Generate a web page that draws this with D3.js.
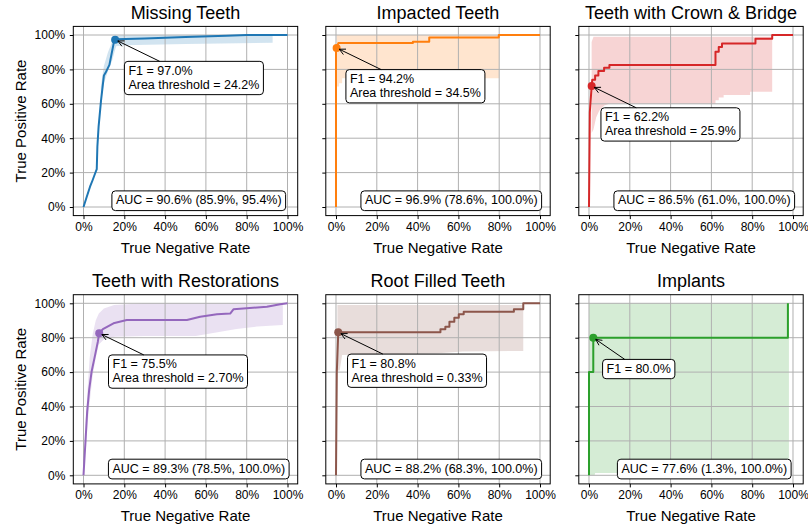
<!DOCTYPE html>
<html>
<head>
<meta charset="utf-8">
<script src="https://cdn.jsdelivr.net/npm/d3@7"></script>
<style>
body { margin: 0; background: #fff; }
text { font-family: "Liberation Sans", Arial, sans-serif; fill: #000; }
</style>
</head>
<body>
<div id="chart"></div>
<script>
// ---- data ----
var titles = ["Missing Teeth", "Impacted Teeth", "Teeth with Crown & Bridge",
              "Teeth with Restorations", "Root Filled Teeth", "Implants"];

var tickValues = [0, 0.2, 0.4, 0.6, 0.8, 1];

// mean ROC curves, [x, y]
var rocMissing = [[0,0],[0.016,0.06],[0.032,0.118],[0.045,0.157],[0.06,0.205],[0.065,0.22],[0.068,0.35],
    [0.074,0.467],[0.086,0.62],[0.1,0.765],[0.108,0.78],[0.127,0.826],[0.135,0.874],[0.151,0.97],
    [0.159,0.975],[0.3,0.98],[0.5,0.988],[0.7,0.995],[0.8,1],[1,1]];
var rocImpacted = [[0,0],[0,0.925],[0.003,0.925],[0.012,0.954],[0.377,0.954],[0.377,0.961],[0.457,0.961],
    [0.457,0.985],[0.798,0.985],[0.798,1],[1,1]];
var rocCrown = [[0,0],[0.004,0.55],[0.013,0.703],[0.016,0.74],[0.03,0.74],[0.03,0.765],[0.046,0.765],
    [0.046,0.79],[0.074,0.79],[0.074,0.81],[0.1,0.81],[0.1,0.826],[0.62,0.826],[0.62,0.903],[0.636,0.903],
    [0.636,0.93],[0.652,0.93],[0.652,0.95],[0.816,0.95],[0.816,0.978],[0.898,0.978],[0.898,1],[1,1]];
var rocRestorations = [[0,0],[0.0098,0.2],[0.018,0.37],[0.028,0.5],[0.04,0.605],[0.057,0.7],[0.07,0.775],
    [0.077,0.826],[0.095,0.85],[0.147,0.884],[0.212,0.903],[0.507,0.903],[0.572,0.922],[0.654,0.936],
    [0.719,0.94],[0.735,0.965],[0.8,0.971],[0.899,0.98],[0.964,0.994],[1,1]];
var rocRootFilled = [[0,0],[0.004,0.6],[0.011,0.831],[0.512,0.831],[0.512,0.849],[0.536,0.849],[0.536,0.864],
    [0.556,0.864],[0.556,0.893],[0.58,0.893],[0.58,0.916],[0.602,0.916],[0.602,0.936],[0.626,0.936],
    [0.626,0.951],[0.872,0.951],[0.872,0.965],[0.918,0.965],[0.918,1],[1,1]];
var rocImplants = [[0,0],[0,0.6],[0.021,0.6],[0.021,0.8],[0.975,0.8],[0.975,1]];

// confidence bands, [x, lower, upper]
var bandMissing = [[0.085,0.6,0.7],[0.1,0.72,0.82],[0.12,0.79,0.9],[0.14,0.85,0.96],[0.16,0.935,0.995],
    [0.2,0.94,1],[0.5,0.947,1],[0.927,0.955,1]];
var bandImpacted = [[0.003,0.7,1],[0.015,0.7,1],[0.015,0.72,1],[0.03,0.72,1],[0.03,0.749,1],[0.8,0.749,1]];
var bandCrown = [[0.013,0.43,0.96],[0.022,0.45,0.99],[0.035,0.52,0.99],[0.05,0.56,0.99],[0.075,0.59,0.99],
    [0.1,0.6,0.99],[0.62,0.6,0.99],[0.62,0.62,0.99],[0.636,0.62,0.99],[0.636,0.636,0.99],[0.66,0.636,0.99],
    [0.66,0.651,0.99],[0.79,0.651,0.99],[0.79,0.67,0.99],[0.898,0.67,0.99]];
var bandRestorations = [[0.01,0.12,0.3],[0.02,0.3,0.5],[0.03,0.42,0.68],[0.045,0.58,0.82],[0.06,0.68,0.9],
    [0.075,0.76,0.94],[0.1,0.79,0.97],[0.15,0.805,0.99],[0.3,0.81,1],[0.55,0.81,1],[0.65,0.83,1],
    [0.75,0.85,1],[0.85,0.865,1],[0.977,0.874,0.99]];
var bandRootFilled = [[0.007,0.61,0.99],[0.018,0.61,0.99],[0.03,0.7,0.99],[0.5,0.71,0.99],[0.62,0.72,0.99],
    [0.918,0.723,0.99]];
var bandImplants = [[0,0,1],[0.028,0,1],[0.03,0.013,1],[0.98,0.013,1]];

// best-F1 operating points
var f1Points = [[0.155,0.973],[0.003,0.925],[0.013,0.703],[0.077,0.826],[0.011,0.831],[0.021,0.8]];
var f1Labels = ["97.0%", "94.2%", "62.2%", "75.5%", "80.8%", "80.0%"];
var areaThresholds = ["24.2%", "34.5%", "25.9%", "2.70%", "0.33%", null];

var aucMean = ["90.6%", "96.9%", "86.5%", "89.3%", "88.2%", "77.6%"];
var aucLow = ["85.9%", "78.6%", "61.0%", "78.5%", "68.3%", "1.3%"];
var aucHigh = ["95.4%", "100.0%", "100.0%", "100.0%", "100.0%", "100.0%"];

var curves = [rocMissing, rocImpacted, rocCrown, rocRestorations, rocRootFilled, rocImplants];
var bands = [bandMissing, bandImpacted, bandCrown, bandRestorations, bandRootFilled, bandImplants];
var colors = ["#1f77b4", "#ff7f0e", "#d62728", "#9467bd", "#8c564b", "#2ca02c"];

// ---- layout ----
var width = 808, height = 529;
var colLeft = [73.3, 325.8, 578.8],
    rowTop = [26.4, 294.7];
var panelW = 224.4, panelH = 189.2;

var svg = d3.select("#chart").append("svg")
    .attr("width", width)
    .attr("height", height);

for (var i = 0; i < titles.length; i++) {
    drawPanel(i);
}


function drawPanel(i) {
    var col = i % 3, row = Math.floor(i / 3);
    var color = colors[i];

    var x = d3.scaleLinear().domain([-0.05, 1.05]).range([0, panelW]);
    var y = d3.scaleLinear().domain([-0.05, 1.05]).range([panelH, 0]);

    var g = svg.append("g")
        .attr("transform", "translate(" + colLeft[col] + "," + rowTop[row] + ")");

    // confidence band
    g.append("path")
        .datum(bands[i])
        .attr("fill", color)
        .attr("fill-opacity", 0.2)
        .attr("d", d3.area().x(d => x(d[0])).y0(d => y(d[1])).y1(d => y(d[2])));

    // grid
    var grid = g.append("g").attr("stroke", "#b0b0b0").attr("stroke-width", 1);
    grid.selectAll(".vgrid").data(tickValues).join("line")
        .attr("class", "vgrid")
        .attr("x1", d => x(d)).attr("x2", d => x(d))
        .attr("y1", 0).attr("y2", panelH);
    grid.selectAll(".hgrid").data(tickValues).join("line")
        .attr("class", "hgrid")
        .attr("x1", 0).attr("x2", panelW)
        .attr("y1", d => y(d)).attr("y2", d => y(d));

    // ROC line
    g.append("path")
        .datum(curves[i])
        .attr("fill", "none")
        .attr("stroke", color)
        .attr("stroke-width", 2)
        .attr("stroke-linejoin", "round")
        .attr("d", d3.line().x(d => x(d[0])).y(d => y(d[1])));

    // F1 point
    var px = x(f1Points[i][0]), py = y(f1Points[i][1]);
    g.append("circle")
        .attr("cx", px).attr("cy", py).attr("r", 4)
        .attr("fill", color);

    // AUC box
    var aucG = g.append("g");
    var aucText = aucG.append("text")
        .attr("x", x(0.565))
        .attr("y", y(0) - 2.7)
        .attr("text-anchor", "middle")
        .style("font-size", "12.5px")
        .text("AUC = " + aucMean[i] + " (" + aucLow[i] + ", " + aucHigh[i] + ")");
    var ab = aucText.node().getBBox();
    aucG.insert("rect", "text")
        .attr("x", ab.x - 4).attr("y", y(0) - 2.7 - 13.4)
        .attr("width", ab.width + 8).attr("height", 13.4 + 6.3)
        .attr("rx", 3.5)
        .attr("fill", "#fff").attr("stroke", "#000").attr("stroke-width", 1);

    // F1 annotation box + arrow
    var lines = ["F1 = " + f1Labels[i]];
    if (areaThresholds[i]) lines.push("Area threshold = " + areaThresholds[i]);

    var boxLeft = px + 9.3, boxTop = py + 21.7;
    var annG = g.append("g");
    var annText = annG.append("text").style("font-size", "12.5px");
    lines.forEach(function (s, k) {
        annText.append("tspan")
            .attr("x", boxLeft + 4)
            .attr("y", boxTop + 13.5 + k * 14)
            .text(s);
    });
    var bb = annText.node().getBBox();
    var boxW = bb.width + 8,
        boxH = 13.5 + (lines.length - 1) * 14 + 5.8;
    annG.insert("rect", "text")
        .attr("x", boxLeft).attr("y", boxTop)
        .attr("width", boxW).attr("height", boxH)
        .attr("rx", 3.5)
        .attr("fill", "#fff").attr("stroke", "#000").attr("stroke-width", 1);

    var cx = boxLeft + boxW / 2, cy = boxTop + boxH / 2;
    var dx = px - cx, dy = py - cy;
    var t = Math.min((boxW / 2) / Math.abs(dx), (boxH / 2) / Math.abs(dy));
    var len = Math.hypot(dx, dy), ux = dx / len, uy = dy / len;
    var sx = cx + dx * t, sy = cy + dy * t;
    var ex = px - ux * 3, ey = py - uy * 3;
    annG.append("line")
        .attr("x1", sx).attr("y1", sy).attr("x2", ex).attr("y2", ey)
        .attr("stroke", "#000").attr("stroke-width", 1);
    annG.append("path")
        .attr("d", "M" + (ex - 6 * ux - 3 * uy) + "," + (ey - 6 * uy + 3 * ux) +
                   "L" + ex + "," + ey +
                   "L" + (ex - 6 * ux + 3 * uy) + "," + (ey - 6 * uy - 3 * ux))
        .attr("fill", "none").attr("stroke", "#000").attr("stroke-width", 1);

    // axes
    var xAxis = g.append("g")
        .attr("transform", "translate(0," + panelH + ")")
        .call(d3.axisBottom(x).tickValues(tickValues).tickFormat(d3.format(".0%"))
            .tickSize(3.5).tickPadding(3.5));
    xAxis.select(".domain").remove();
    xAxis.selectAll("text").style("font-size", "12px");

    var yAxis = g.append("g")
        .call(d3.axisLeft(y).tickValues(tickValues)
            .tickFormat(col == 0 ? d3.format(".0%") : "")
            .tickSize(3.5).tickPadding(4.5));
    yAxis.select(".domain").remove();
    yAxis.selectAll("text").style("font-size", "12px");
    g.selectAll(".tick line").attr("stroke", "#000").attr("stroke-width", 1);

    // frame
    g.append("rect")
        .attr("width", panelW).attr("height", panelH)
        .attr("fill", "none").attr("stroke", "#000").attr("stroke-width", 1);

    // title and labels
    g.append("text")
        .attr("x", panelW / 2).attr("y", -7.5)
        .attr("text-anchor", "middle")
        .style("font-size", "18px")
        .text(titles[i]);

    g.append("text")
        .attr("x", panelW / 2).attr("y", panelH + 37)
        .attr("text-anchor", "middle")
        .style("font-size", "15px")
        .text("True Negative Rate");

    if (col == 0) {
        g.append("text")
            .attr("transform", "translate(" + (26 - colLeft[col]) + "," + (panelH / 2) + ") rotate(-90)")
            .attr("text-anchor", "middle")
            .style("font-size", "15px")
            .text("True Positive Rate");
    }
}
</script>
</body>
</html>
